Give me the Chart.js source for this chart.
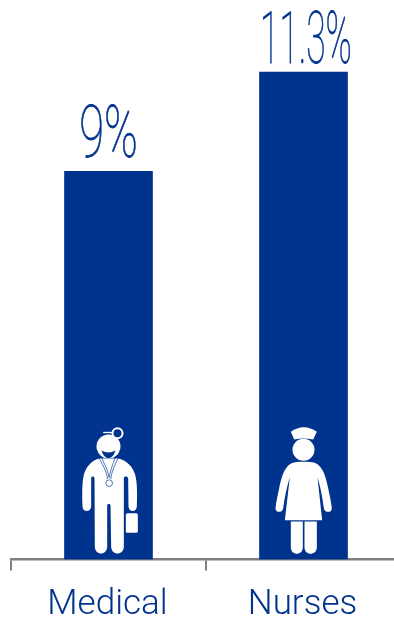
<!DOCTYPE html>
<html>
<head>
<meta charset="utf-8">
<title>Medical and nurses</title>
<script src="https://cdn.jsdelivr.net/npm/chart.js@4"></script>
<style>
  html, body { margin: 0; padding: 0; background: #fff; overflow: hidden; width: 394px; height: 618px; }
  canvas { display: block; }
</style>
</head>
<body>
<canvas id="barChart" width="402" height="618"></canvas>
<script>
const categories = ['Medical', 'Nurses'];
const shares = [9, 11.3];

const BLUE = '#00338d';
const GREY = '#808080';

// figures are drawn in a 3x space, origin on the bar centre at the baseline
function doctorIcon(ctx) {
  ctx.fillStyle = '#fff';
  // body, arms and legs
  ctx.fill(new Path2D('M296 146 C272 153 258 170 250 195 C244 220 245 260 246 290 C247 308 270 308 272 290 L272 205 C272 198 281 198 282 205 L283 410 C283 438 320 438 320 410 L320 288 C320 280 330 280 330 288 L332 410 C332 438 370 438 370 410 L370 205 C370 198 381 198 383 205 L384 290 C385 308 408 308 409 290 C410 260 411 220 404 195 C396 170 380 153 354 146 Z'));
  // head
  ctx.beginPath();
  ctx.arc(324, 110, 36, 0, Math.PI * 2);
  ctx.fill();
  // bag
  ctx.beginPath();
  ctx.roundRect(376, 310, 36, 59, 5);
  ctx.fill();
  // headband and mirror
  ctx.fillRect(308, 66, 32, 4);
  ctx.beginPath();
  ctx.arc(351, 70, 18, 0, Math.PI * 2);
  ctx.fill();
  ctx.fillStyle = BLUE;
  ctx.beginPath();
  ctx.arc(351, 70, 12, 0, Math.PI * 2);
  ctx.fill();
  // dark crescent under the face
  ctx.fill(new Path2D('M303 122 Q324 134 345 122 Q338 145 324 145 Q310 145 303 122 Z'));
  // stethoscope tubes
  ctx.strokeStyle = BLUE;
  ctx.lineWidth = 2;
  ctx.stroke(new Path2D('M289 120 C294 155 318 172 321 208 M359 120 C354 155 334 172 331 208 M305 146 C310 162 322 178 326 204 M343 146 C338 162 330 178 326 204'));
  // chest piece
  ctx.fillStyle = '#fff';
  ctx.beginPath();
  ctx.arc(326, 220, 10, 0, Math.PI * 2);
  ctx.fill();
  ctx.stroke();
}

function nurseIcon(ctx) {
  ctx.fillStyle = '#fff';
  // cap
  ctx.fill(new Path2D('M273 66 C298 48 326 48 351 66 L340 89 C320 85 302 85 283 89 Z'));
  // head
  ctx.beginPath();
  ctx.arc(311, 120, 33, 0, Math.PI * 2);
  ctx.fill();
  // dress with arms
  ctx.fill(new Path2D('M311 156 C330 156 345 157 354 164 C370 177 378 200 385 235 C390 258 394 275 396 295 C397 309 374 310 372 295 C368 265 362 230 353 202 L367 331 L255 331 L270 202 C261 230 254 265 250 295 C248 310 226 309 227 295 C229 275 233 258 238 235 C245 200 253 177 269 164 C278 157 292 156 311 156 Z'));
  // legs
  ctx.fill(new Path2D('M273 335 L309 335 L309 412 C309 438 273 438 273 412 Z M314 335 L351 335 L351 412 C351 438 314 438 314 412 Z'));
}

const icons = [
  { draw: doctorIcon, cx: 324 },
  { draw: nurseIcon, cx: 311 }
];

// white figure standing in each bar
const barIcons = {
  id: 'barIcons',
  afterDatasetsDraw(chart) {
    const { ctx } = chart;
    chart.getDatasetMeta(0).data.forEach((bar, i) => {
      ctx.save();
      ctx.translate(bar.x, bar.base);
      ctx.scale(1 / 3, 1 / 3);
      ctx.translate(-icons[i].cx, -449);
      icons[i].draw(ctx);
      ctx.restore();
    });
  }
};

// thin narrow percentage over each bar
const valueLabels = {
  id: 'valueLabels',
  afterDatasetsDraw(chart, args, opts) {
    const { ctx } = chart;
    chart.getDatasetMeta(0).data.forEach((bar, i) => {
      const text = shares[i] + '%';
      ctx.save();
      ctx.translate(bar.x + opts.shiftX[i], bar.y - opts.lift[i]);
      ctx.scale(opts.squeeze[i], 1);
      ctx.font = '100 72px Roboto';
      ctx.fillStyle = BLUE;
      ctx.strokeStyle = BLUE;
      ctx.lineWidth = 0.8;
      ctx.textAlign = 'center';
      ctx.textBaseline = 'alphabetic';
      ctx.fillText(text, 0, 0);
      ctx.strokeText(text, 0, 0);
      ctx.restore();
    });
  }
};

const ctx = document.getElementById('barChart').getContext('2d');

new Chart(ctx, {
  type: 'bar',
  data: {
    labels: categories,
    datasets: [{
      data: shares,
      backgroundColor: BLUE,
      borderWidth: 0,
      barThickness: 88
    }]
  },
  plugins: [barIcons, valueLabels],
  options: {
    responsive: false,
    animation: false,
    layout: { padding: { left: 11, right: 1, top: 3, bottom: 0 } },
    plugins: {
      legend: { display: false },
      tooltip: { enabled: false },
      valueLabels: { lift: [14, 9], shiftX: [0, 2.5], squeeze: [0.63, 0.49] }
    },
    scales: {
      x: {
        afterFit(scale) { scale.height = 58.5; },
        grid: { drawOnChartArea: false, color: GREY, lineWidth: 2, tickLength: 11 },
        border: { color: GREY, width: 2.5 },
        ticks: {
          color: BLUE,
          padding: 14,
          labelOffset: -1,
          maxRotation: 0,
          autoSkip: false,
          font: { family: 'Roboto', size: 35, weight: 300 }
        }
      },
      y: { display: false, min: 0, max: 12.9 }
    }
  }
});
</script>
</body>
</html>
